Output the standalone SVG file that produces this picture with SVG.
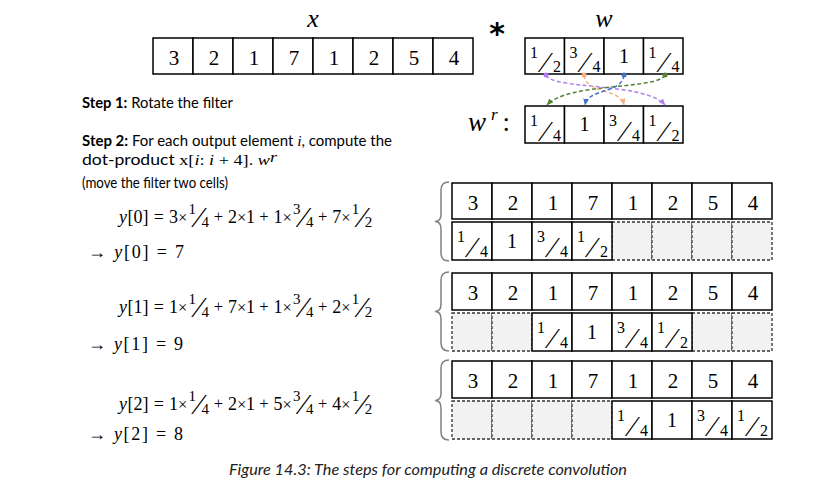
<svg xmlns="http://www.w3.org/2000/svg" width="813" height="495" viewBox="0 0 813 495">
<defs>
<style>
.c{fill:#fff;stroke:#000;stroke-width:1.5}
.e{fill:#f2f2f2;stroke:#333;stroke-width:1.3;stroke-dasharray:3 2}
.d{font-family:"Liberation Serif",serif;font-size:21px;text-anchor:middle;fill:#000}
.one{font-family:"Liberation Serif",serif;font-size:20px;text-anchor:middle;fill:#000}
.fs{font-family:"Liberation Serif","DejaVu Serif",serif;font-size:16px;fill:#000}
.sl{font-size:29px}
.t{font-family:Lato,"Liberation Sans",sans-serif;font-size:14.5px;fill:#000}
.b{font-weight:bold}
.m{font-family:"Liberation Serif","DejaVu Serif",serif;font-size:18px;fill:#000}
.ms{font-family:"Liberation Serif",serif;font-size:15px}
.it{font-style:italic}
.f{font-size:15px}
.o{font-size:16.5px}
.s{font-size:30px}
.lbl{font-family:"Liberation Serif",serif;font-size:26px;font-style:italic;text-anchor:middle;fill:#000}
.br{fill:none;stroke:#808080;stroke-width:1.5}
.cn{fill:none;stroke-width:1.5;stroke-dasharray:4 2.5}
.cap{font-family:Lato,"Liberation Sans",sans-serif;font-size:15px;font-style:italic;fill:#222;text-anchor:middle}
</style>
<marker id="dP" markerUnits="userSpaceOnUse" markerWidth="6" markerHeight="6" refX="3" refY="3"><circle cx="3" cy="3" r="2.5" fill="#b07ef0"/></marker>
<marker id="dO" markerUnits="userSpaceOnUse" markerWidth="6" markerHeight="6" refX="3" refY="3"><circle cx="3" cy="3" r="2.5" fill="#f4b183"/></marker>
<marker id="dB" markerUnits="userSpaceOnUse" markerWidth="6" markerHeight="6" refX="3" refY="3"><circle cx="3" cy="3" r="2.5" fill="#4472c4"/></marker>
<marker id="dG" markerUnits="userSpaceOnUse" markerWidth="6" markerHeight="6" refX="3" refY="3"><circle cx="3" cy="3" r="2.5" fill="#548235"/></marker>
<marker id="aP" markerUnits="userSpaceOnUse" viewBox="0 0 10 10" refX="9" refY="5" markerWidth="7" markerHeight="7" orient="auto"><path d="M0,1 L10,5 L0,9 z" fill="#b07ef0"/></marker>
<marker id="aO" markerUnits="userSpaceOnUse" viewBox="0 0 10 10" refX="9" refY="5" markerWidth="7" markerHeight="7" orient="auto"><path d="M0,1 L10,5 L0,9 z" fill="#f4b183"/></marker>
<marker id="aB" markerUnits="userSpaceOnUse" viewBox="0 0 10 10" refX="9" refY="5" markerWidth="7" markerHeight="7" orient="auto"><path d="M0,1 L10,5 L0,9 z" fill="#4472c4"/></marker>
<marker id="aG" markerUnits="userSpaceOnUse" viewBox="0 0 10 10" refX="9" refY="5" markerWidth="7" markerHeight="7" orient="auto"><path d="M0,1 L10,5 L0,9 z" fill="#548235"/></marker>
</defs>
<rect width="813" height="495" fill="#fff"/>

<g id="x-array">
<text class="lbl" x="313" y="27">x</text>
<rect class="c" x="153" y="38" width="40" height="36"/><rect class="c" x="193" y="38" width="40" height="36"/><rect class="c" x="233" y="38" width="40" height="36"/><rect class="c" x="273" y="38" width="40" height="36"/><rect class="c" x="313" y="38" width="40" height="36"/><rect class="c" x="353" y="38" width="40" height="36"/><rect class="c" x="393" y="38" width="40" height="36"/><rect class="c" x="433" y="38" width="40" height="36"/>
<text class="d" x="174" y="65">3</text><text class="d" x="214" y="65">2</text><text class="d" x="254" y="65">1</text><text class="d" x="294" y="65">7</text><text class="d" x="334" y="65">1</text><text class="d" x="374" y="65">2</text><text class="d" x="414" y="65">5</text><text class="d" x="454" y="65">4</text>
</g>

<g id="star"><text x="497" y="44" style="font-family:'DejaVu Sans',sans-serif;font-size:30px;font-weight:bold;text-anchor:middle">*</text></g>

<g id="w-array">
<text class="lbl" x="604" y="27">w</text>
<rect class="c" x="525" y="38" width="39.5" height="36"/><rect class="c" x="564.5" y="38" width="39.5" height="36"/><rect class="c" x="604" y="38" width="39.5" height="36"/><rect class="c" x="643.5" y="38" width="39.5" height="36"/>
<text class="fs"><tspan x="530" y="58">1</tspan><tspan class="sl" x="543" y="72">⁄</tspan><tspan x="553" y="72">2</tspan></text>
<text class="fs"><tspan x="569.5" y="58">3</tspan><tspan class="sl" x="582.5" y="72">⁄</tspan><tspan x="592.5" y="72">4</tspan></text>
<text class="one" x="624" y="63">1</text>
<text class="fs"><tspan x="648.5" y="58">1</tspan><tspan class="sl" x="661.5" y="72">⁄</tspan><tspan x="671.5" y="72">4</tspan></text>
</g>

<g id="wr-array">
<text x="468" y="131" style="font-family:'Liberation Serif',serif;font-size:27px;fill:#000" textLength="42" lengthAdjust="spacing"><tspan class="it">w</tspan><tspan class="it" font-size="17" dy="-11">r</tspan><tspan dy="11">:</tspan></text>
<rect class="c" x="525" y="106" width="39.5" height="37"/><rect class="c" x="564.5" y="106" width="39.5" height="37"/><rect class="c" x="604" y="106" width="39.5" height="37"/><rect class="c" x="643.5" y="106" width="39.5" height="37"/>
<text class="fs"><tspan x="530" y="126">1</tspan><tspan class="sl" x="543" y="141">⁄</tspan><tspan x="553" y="141">4</tspan></text>
<text class="one" x="584.5" y="131">1</text>
<text class="fs"><tspan x="609" y="126">3</tspan><tspan class="sl" x="622" y="141">⁄</tspan><tspan x="632" y="141">4</tspan></text>
<text class="fs"><tspan x="648.5" y="126">1</tspan><tspan class="sl" x="661.5" y="141">⁄</tspan><tspan x="671.5" y="141">2</tspan></text>
</g>

<g id="connectors">
<path class="cn" stroke="#b07ef0" d="M546,75 C552,90 645,82 665,105" marker-start="url(#dP)" marker-end="url(#aP)"/>
<path class="cn" stroke="#548235" d="M665,75 C658,90 568,82 547,105" marker-start="url(#dG)" marker-end="url(#aG)"/>
<path class="cn" stroke="#f4b183" d="M584,75 C586,94 620,88 624,105" marker-start="url(#dO)" marker-end="url(#aO)"/>
<path class="cn" stroke="#4472c4" d="M624,75 C622,94 588,88 585,105" marker-start="url(#dB)" marker-end="url(#aB)"/>
</g>

<g id="steps">
<text class="t" x="82" y="108" textLength="151" lengthAdjust="spacingAndGlyphs"><tspan class="b">Step 1:</tspan> Rotate the filter</text>
<text class="t" x="82" y="146" textLength="310" lengthAdjust="spacingAndGlyphs"><tspan class="b">Step 2:</tspan> For each output element <tspan class="ms it">i</tspan>, compute the</text>
<text class="t" x="82" y="165" textLength="195" lengthAdjust="spacingAndGlyphs">dot-product <tspan class="ms">x[<tspan class="it">i</tspan>: <tspan class="it">i</tspan> + 4]. <tspan class="it">w</tspan></tspan><tspan class="ms it" font-size="10" dy="-3">r</tspan></text>
<text class="t" x="82" y="188" textLength="146" lengthAdjust="spacingAndGlyphs">(move the filter two cells)</text>
</g>

<g id="eq0">
<text class="m" y="223"><tspan class="it" x="119">y</tspan><tspan x="127.5">[0]</tspan><tspan x="153.7">=</tspan><tspan x="169.1">3</tspan><tspan class="o" x="178.1">×</tspan><tspan class="f" x="188.6" y="214">1</tspan><tspan class="s" x="196.6" y="227">⁄</tspan><tspan class="f" x="201.6" y="227">4</tspan><tspan class="o" x="213.8" y="222">+</tspan><tspan x="228" y="223">2</tspan><tspan class="o" x="237">×</tspan><tspan x="246">1</tspan><tspan class="o" x="259.2" y="222">+</tspan><tspan x="273.4" y="223">1</tspan><tspan class="o" x="282.4">×</tspan><tspan class="f" x="292.9" y="214">3</tspan><tspan class="s" x="300.9" y="227">⁄</tspan><tspan class="f" x="305.9" y="227">4</tspan><tspan class="o" x="318.1" y="222">+</tspan><tspan x="332.3" y="223">7</tspan><tspan class="o" x="341.3">×</tspan><tspan class="f" x="351.8" y="214">1</tspan><tspan class="s" x="359.8" y="227">⁄</tspan><tspan class="f" x="364.8" y="227">2</tspan></text>
<text class="m" x="88" y="258" textLength="96" lengthAdjust="spacing">→ <tspan class="it">y</tspan>[0] = 7</text>
</g>
<g id="eq1">
<text class="m" y="313"><tspan class="it" x="119">y</tspan><tspan x="127.5">[1]</tspan><tspan x="153.7">=</tspan><tspan x="169.1">1</tspan><tspan class="o" x="178.1">×</tspan><tspan class="f" x="188.6" y="304">1</tspan><tspan class="s" x="196.6" y="317">⁄</tspan><tspan class="f" x="201.6" y="317">4</tspan><tspan class="o" x="213.8" y="312">+</tspan><tspan x="228" y="313">7</tspan><tspan class="o" x="237">×</tspan><tspan x="246">1</tspan><tspan class="o" x="259.2" y="312">+</tspan><tspan x="273.4" y="313">1</tspan><tspan class="o" x="282.4">×</tspan><tspan class="f" x="292.9" y="304">3</tspan><tspan class="s" x="300.9" y="317">⁄</tspan><tspan class="f" x="305.9" y="317">4</tspan><tspan class="o" x="318.1" y="312">+</tspan><tspan x="332.3" y="313">2</tspan><tspan class="o" x="341.3">×</tspan><tspan class="f" x="351.8" y="304">1</tspan><tspan class="s" x="359.8" y="317">⁄</tspan><tspan class="f" x="364.8" y="317">2</tspan></text>
<text class="m" x="88" y="350" textLength="95" lengthAdjust="spacing">→ <tspan class="it">y</tspan>[1] = 9</text>
</g>
<g id="eq2">
<text class="m" y="410"><tspan class="it" x="119">y</tspan><tspan x="127.5">[2]</tspan><tspan x="153.7">=</tspan><tspan x="169.1">1</tspan><tspan class="o" x="178.1">×</tspan><tspan class="f" x="188.6" y="401">1</tspan><tspan class="s" x="196.6" y="414">⁄</tspan><tspan class="f" x="201.6" y="414">4</tspan><tspan class="o" x="213.8" y="409">+</tspan><tspan x="228" y="410">2</tspan><tspan class="o" x="237">×</tspan><tspan x="246">1</tspan><tspan class="o" x="259.2" y="409">+</tspan><tspan x="273.4" y="410">5</tspan><tspan class="o" x="282.4">×</tspan><tspan class="f" x="292.9" y="401">3</tspan><tspan class="s" x="300.9" y="414">⁄</tspan><tspan class="f" x="305.9" y="414">4</tspan><tspan class="o" x="318.1" y="409">+</tspan><tspan x="332.3" y="410">4</tspan><tspan class="o" x="341.3">×</tspan><tspan class="f" x="351.8" y="401">1</tspan><tspan class="s" x="359.8" y="414">⁄</tspan><tspan class="f" x="364.8" y="414">2</tspan></text>
<text class="m" x="88" y="440" textLength="95" lengthAdjust="spacing">→ <tspan class="it">y</tspan>[2] = 8</text>
</g>

<g id="step0">
<path class="br" d="M449,182 Q441,182 441,190 L441,214 Q441,221.5 435,221.5 Q441,221.5 441,229 L441,253 Q441,261 449,261"/>
<rect class="e" x="612" y="222" width="40" height="38"/><rect class="e" x="652" y="222" width="40" height="38"/><rect class="e" x="692" y="222" width="40" height="38"/><rect class="e" x="732" y="222" width="40" height="38"/>
<rect class="c" x="452" y="183" width="40" height="36"/><rect class="c" x="492" y="183" width="40" height="36"/><rect class="c" x="532" y="183" width="40" height="36"/><rect class="c" x="572" y="183" width="40" height="36"/><rect class="c" x="612" y="183" width="40" height="36"/><rect class="c" x="652" y="183" width="40" height="36"/><rect class="c" x="692" y="183" width="40" height="36"/><rect class="c" x="732" y="183" width="40" height="36"/>
<text class="d" x="473" y="210">3</text><text class="d" x="513" y="210">2</text><text class="d" x="553" y="210">1</text><text class="d" x="593" y="210">7</text><text class="d" x="633" y="210">1</text><text class="d" x="673" y="210">2</text><text class="d" x="713" y="210">5</text><text class="d" x="753" y="210">4</text>
<rect class="c" x="452" y="222" width="40" height="38"/><rect class="c" x="492" y="222" width="40" height="38"/><rect class="c" x="532" y="222" width="40" height="38"/><rect class="c" x="572" y="222" width="40" height="38"/>
<text class="fs"><tspan x="457" y="242">1</tspan><tspan class="sl" x="470" y="257">⁄</tspan><tspan x="480" y="257">4</tspan></text>
<text class="one" x="512" y="248">1</text>
<text class="fs"><tspan x="537" y="242">3</tspan><tspan class="sl" x="550" y="257">⁄</tspan><tspan x="560" y="257">4</tspan></text>
<text class="fs"><tspan x="577" y="242">1</tspan><tspan class="sl" x="590" y="257">⁄</tspan><tspan x="600" y="257">2</tspan></text>
</g>

<g id="step1">
<path class="br" d="M449,272 Q441,272 441,280 L441,304 Q441,311.5 435,311.5 Q441,311.5 441,319 L441,343 Q441,351 449,351"/>
<rect class="e" x="452" y="313" width="40" height="38"/><rect class="e" x="492" y="313" width="40" height="38"/><rect class="e" x="692" y="313" width="40" height="38"/><rect class="e" x="732" y="313" width="40" height="38"/>
<rect class="c" x="452" y="273" width="40" height="37"/><rect class="c" x="492" y="273" width="40" height="37"/><rect class="c" x="532" y="273" width="40" height="37"/><rect class="c" x="572" y="273" width="40" height="37"/><rect class="c" x="612" y="273" width="40" height="37"/><rect class="c" x="652" y="273" width="40" height="37"/><rect class="c" x="692" y="273" width="40" height="37"/><rect class="c" x="732" y="273" width="40" height="37"/>
<text class="d" x="473" y="300">3</text><text class="d" x="513" y="300">2</text><text class="d" x="553" y="300">1</text><text class="d" x="593" y="300">7</text><text class="d" x="633" y="300">1</text><text class="d" x="673" y="300">2</text><text class="d" x="713" y="300">5</text><text class="d" x="753" y="300">4</text>
<rect class="c" x="532" y="313" width="40" height="38"/><rect class="c" x="572" y="313" width="40" height="38"/><rect class="c" x="612" y="313" width="40" height="38"/><rect class="c" x="652" y="313" width="40" height="38"/>
<text class="fs"><tspan x="537" y="333">1</tspan><tspan class="sl" x="550" y="348">⁄</tspan><tspan x="560" y="348">4</tspan></text>
<text class="one" x="592" y="339">1</text>
<text class="fs"><tspan x="617" y="333">3</tspan><tspan class="sl" x="630" y="348">⁄</tspan><tspan x="640" y="348">4</tspan></text>
<text class="fs"><tspan x="657" y="333">1</tspan><tspan class="sl" x="670" y="348">⁄</tspan><tspan x="680" y="348">2</tspan></text>
</g>

<g id="step2">
<path class="br" d="M449,360 Q441,360 441,368 L441,393 Q441,400.5 435,400.5 Q441,400.5 441,408 L441,432 Q441,440 449,440"/>
<rect class="e" x="452" y="401" width="40" height="38"/><rect class="e" x="492" y="401" width="40" height="38"/><rect class="e" x="532" y="401" width="40" height="38"/><rect class="e" x="572" y="401" width="40" height="38"/>
<rect class="c" x="452" y="361" width="40" height="37"/><rect class="c" x="492" y="361" width="40" height="37"/><rect class="c" x="532" y="361" width="40" height="37"/><rect class="c" x="572" y="361" width="40" height="37"/><rect class="c" x="612" y="361" width="40" height="37"/><rect class="c" x="652" y="361" width="40" height="37"/><rect class="c" x="692" y="361" width="40" height="37"/><rect class="c" x="732" y="361" width="40" height="37"/>
<text class="d" x="473" y="388">3</text><text class="d" x="513" y="388">2</text><text class="d" x="553" y="388">1</text><text class="d" x="593" y="388">7</text><text class="d" x="633" y="388">1</text><text class="d" x="673" y="388">2</text><text class="d" x="713" y="388">5</text><text class="d" x="753" y="388">4</text>
<rect class="c" x="612" y="401" width="40" height="38"/><rect class="c" x="652" y="401" width="40" height="38"/><rect class="c" x="692" y="401" width="40" height="38"/><rect class="c" x="732" y="401" width="40" height="38"/>
<text class="fs"><tspan x="617" y="421">1</tspan><tspan class="sl" x="630" y="436">⁄</tspan><tspan x="640" y="436">4</tspan></text>
<text class="one" x="672" y="427">1</text>
<text class="fs"><tspan x="697" y="421">3</tspan><tspan class="sl" x="710" y="436">⁄</tspan><tspan x="720" y="436">4</tspan></text>
<text class="fs"><tspan x="737" y="421">1</tspan><tspan class="sl" x="750" y="436">⁄</tspan><tspan x="760" y="436">2</tspan></text>
</g>

<g id="caption"><text class="cap" x="428" y="475" textLength="398" lengthAdjust="spacingAndGlyphs">Figure 14.3: The steps for computing a discrete convolution</text></g>
</svg>
